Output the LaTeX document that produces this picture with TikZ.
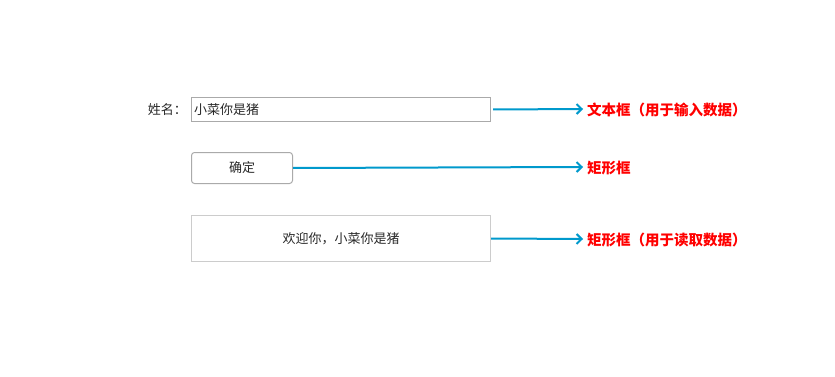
\documentclass[tikz,border=0pt]{standalone}
\usepackage{fontspec}
\setmainfont{Noto Sans CJK SC}
\usetikzlibrary{arrows.meta,positioning}
\definecolor{uiborder}{RGB}{170,170,170}
\definecolor{uilight}{RGB}{204,204,204}
\definecolor{uiarrow}{RGB}{0,153,204}
\definecolor{uired}{RGB}{255,0,0}
\definecolor{uitext}{RGB}{40,40,40}

\begin{document}
\begin{tikzpicture}[
  x=1pt, y=-1pt,
  field/.style={draw=#1, line width=1pt, inner sep=0pt, anchor=north west},
  txt/.style={text=uitext, inner sep=0pt, font=\fontsize{13pt}{15pt}\selectfont},
  note/.style={text=uired, inner sep=0pt, anchor=west, font=\fontsize{14.5pt}{16pt}\selectfont\bfseries},
  arr/.style={-{Straight Barb[length=5pt,width=10pt]}, line width=2pt, draw=uiarrow}
]
\useasboundingbox (0,0) rectangle (835,377);
% input field
\node[field=uiborder, minimum width=299pt, minimum height=24pt] (input) at (191,97) {};
\node[txt, anchor=west] (inputtext) at ([xshift=3pt]input.west) {小菜你是猪};
\node[txt, anchor=east] (namelabel) at ([xshift=-4pt]input.west) {姓名：};
% button
\node[field=uiborder, rounded corners=3pt, minimum width=101pt, minimum height=31pt] (btn) at (191,152) {};
\node[txt] (btntext) at (btn.center) {确定};
% output box
\node[field=uilight, minimum width=299pt, minimum height=46pt] (output) at (191,215) {};
\node[txt] (outputtext) at (output.center) {欢迎你，小菜你是猪};
% notes
\node[note] (note1) at (587,110) {文本框（用于输入数据）};
\node[note] (note2) at (587,168) {矩形框};
\node[note] (note3) at (587,240) {矩形框（用于读取数据）};
\draw[arr] ([xshift=2pt]input.east) -- ([xshift=-4pt,yshift=1pt]note1.west);
\draw[arr] (btn.east) -- ([xshift=-4pt,yshift=1pt]note2.west);
\draw[arr] (output.east) -- ([xshift=-4pt,yshift=1pt]note3.west);
\end{tikzpicture}
\end{document}
